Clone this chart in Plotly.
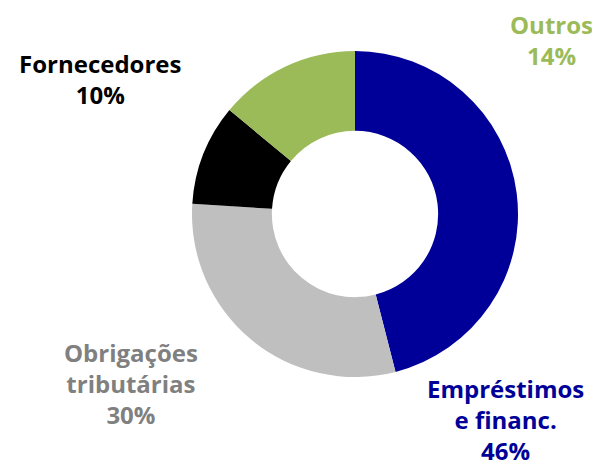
import plotly.graph_objects as go

categories = ["Empréstimos<br>e financ.", "Obrigações<br>tributárias", "Fornecedores", "Outros"]
values = [46, 30, 10, 14]
slice_colors = ["#000099", "#BFBFBF", "#000000", "#9BBB59"]
label_colors = ["#000099", "#808080", "#000000", "#9BBB59"]
# label anchor positions in pixels (center x, center y from top)
label_pos = [(497, 411), (123, 375), (92, 71), (543, 32)]

W, H = 600, 468
cx, cy, R = 347, 206, 163
fig = go.Figure(go.Pie(
    values=values,
    labels=categories,
    marker=dict(colors=slice_colors, line=dict(width=0)),
    hole=0.51,
    sort=False,
    direction="clockwise",
    rotation=0,
    textinfo="none",
    hoverinfo="label+percent",
    showlegend=False,
    domain=dict(x=[(cx - R) / W, (cx + R) / W], y=[(H - cy - R) / H, (H - cy + R) / H]),
))

annotations = []
for cat, v, c, (px, py) in zip(categories, values, label_colors, label_pos):
    annotations.append(dict(
        x=px / W, y=1 - py / H, xref="paper", yref="paper",
        xanchor="center", yanchor="middle",
        text=f"{cat}<br>{v}%", showarrow=False, align="center",
        font=dict(family="Open Sans", size=24, color=c, weight="bold"),
    ))

fig.update_layout(
    width=W, height=H,
    margin=dict(l=0, r=0, t=0, b=0),
    paper_bgcolor="white", plot_bgcolor="white",
    annotations=annotations,
)
fig.write_html("out.html")
